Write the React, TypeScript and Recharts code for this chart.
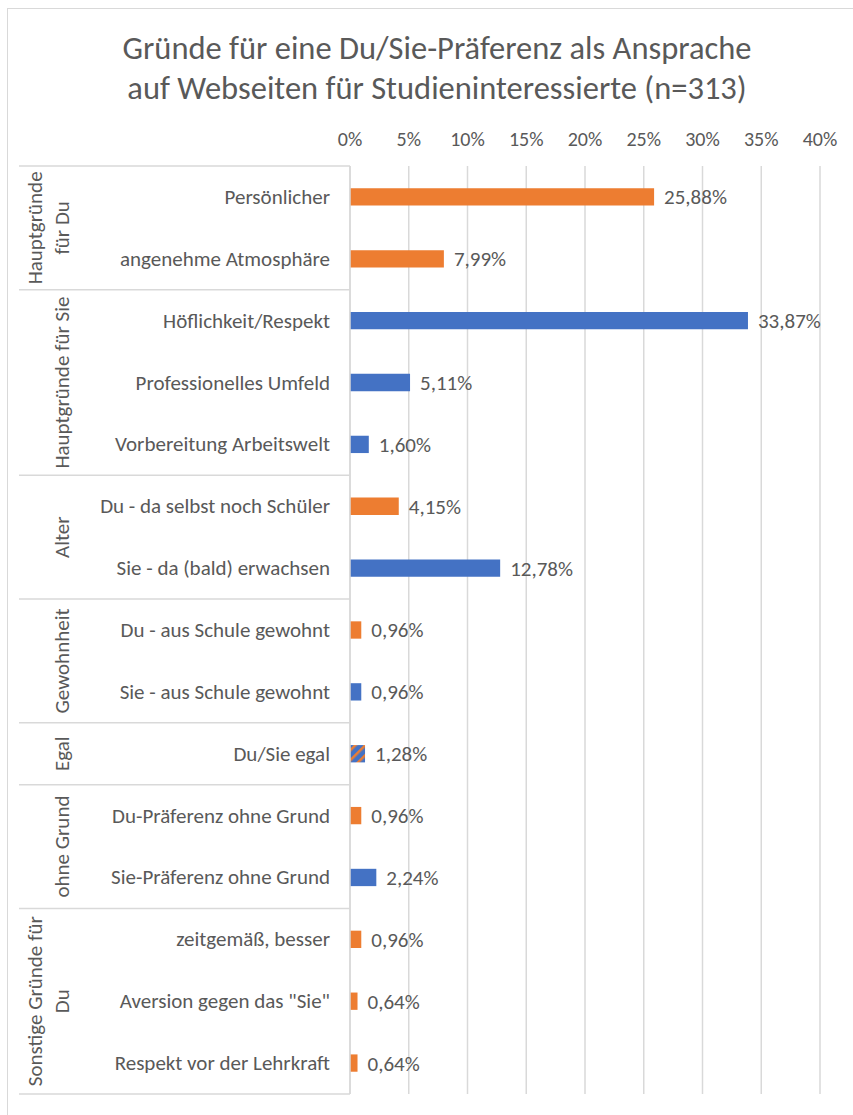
import { BarChart, Bar, XAxis, YAxis, CartesianGrid, Cell, LabelList } from "recharts";

const categories = [
  "Persönlicher",
  "angenehme Atmosphäre",
  "Höflichkeit/Respekt",
  "Professionelles Umfeld",
  "Vorbereitung Arbeitswelt",
  "Du - da selbst noch Schüler",
  "Sie - da (bald) erwachsen",
  "Du - aus Schule gewohnt",
  "Sie - aus Schule gewohnt",
  "Du/Sie egal",
  "Du-Präferenz ohne Grund",
  "Sie-Präferenz ohne Grund",
  "zeitgemäß, besser",
  'Aversion gegen das "Sie"',
  "Respekt vor der Lehrkraft",
];
const values = [25.88, 7.99, 33.87, 5.11, 1.6, 4.15, 12.78, 0.96, 0.96, 1.28, 0.96, 2.24, 0.96, 0.64, 0.64];
// du = orange, sie = blue, egal = striped
const kinds = ["du", "du", "sie", "sie", "sie", "du", "sie", "du", "sie", "egal", "du", "sie", "du", "du", "du"];
const groups = [
  { label: ["Hauptgründe", "für Du"], start: 0, count: 2 },
  { label: ["Hauptgründe für Sie"], start: 2, count: 3 },
  { label: ["Alter"], start: 5, count: 2 },
  { label: ["Gewohnheit"], start: 7, count: 2 },
  { label: ["Egal"], start: 9, count: 1 },
  { label: ["ohne Grund"], start: 10, count: 2 },
  { label: ["Sonstige Gründe für", "Du"], start: 12, count: 3 },
];
const xTicks = [0, 5, 10, 15, 20, 25, 30, 35, 40];

const data = categories.map((name, i) => ({ name, value: values[i], kind: kinds[i] }));

const W = 853;
const H = 1115;
const PLOT_TOP = 166;
const PLOT_BOTTOM = 1094;
const BAND = (PLOT_BOTTOM - PLOT_TOP) / categories.length;
const FONT = "Carlito, Lato, sans-serif";
const GRAY = "#595959";
const LINE = "#d9d9d9";
const FS = 21;

const fillFor = (k: string) => (k === "du" ? "#ED7D31" : k === "sie" ? "#4472C4" : "url(#duSieStripe)");

const CategoryTick = (props: any) => {
  const { x, y, payload } = props;
  const idx = categories.indexOf(payload.value);
  const g = groups.find((gr) => gr.start === idx);
  const last = idx === categories.length - 1;
  let groupEl = null;
  if (g) {
    const top = y - BAND / 2;
    const cy = top + (g.count * BAND) / 2;
    const xs = g.label.length === 2 ? [35, 62] : [62];
    groupEl = (
      <g>
        <line x1={19} x2={350} y1={top} y2={top} stroke={LINE} strokeWidth={1.5} />
        {g.label.map((t, j) => (
          <text
            key={j}
            x={xs[j]}
            y={cy}
            transform={`rotate(-90 ${xs[j]} ${cy})`}
            textAnchor="middle"
            dominantBaseline="central"
            fill={GRAY}
            fontSize={FS}
            fontFamily={FONT}
          >
            {t}
          </text>
        ))}
      </g>
    );
  }
  return (
    <g>
      {groupEl}
      {last && <line x1={19} x2={350} y1={y + BAND / 2} y2={y + BAND / 2} stroke={LINE} strokeWidth={1.5} />}
      <text x={x} y={y} textAnchor="end" dominantBaseline="central" fill={GRAY} fontSize={FS} fontFamily={FONT}>
        {payload.value}
      </text>
    </g>
  );
};

export default function App() {
  return (
    <div style={{ position: "absolute", left: 0, top: 0, width: W, height: H, overflow: "hidden", background: "#fff" }}>
      <div
        style={{
          position: "absolute",
          left: 7,
          top: 8,
          width: W,
          height: H,
          borderLeft: `1.5px solid ${LINE}`,
          borderTop: `1.5px solid ${LINE}`,
        }}
      />
      <div
        style={{
          position: "absolute",
          left: 0,
          width: 874,
          top: 28,
          textAlign: "center",
          fontFamily: FONT,
          fontSize: 32.5,
          lineHeight: "40px",
          color: GRAY,
        }}
      >
        Gründe für eine Du/Sie-Präferenz als Ansprache
        <br />
        auf Webseiten für Studieninteressierte (n=313)
      </div>
      <div style={{ position: "absolute", left: 0, top: 0 }}>
        <BarChart
          width={W}
          height={H}
          data={data}
          layout="vertical"
          margin={{ top: PLOT_TOP - 30, right: 33, bottom: H - PLOT_BOTTOM, left: 0 }}
          barCategoryGap="64%"
        >
          <defs>
            <pattern id="duSieStripe" width="7" height="7" patternUnits="userSpaceOnUse" patternTransform="rotate(45)">
              <rect width="7" height="7" fill="#4472C4" />
              <rect width="2.5" height="7" fill="#ED7D31" />
            </pattern>
          </defs>
          <CartesianGrid horizontal={false} stroke={LINE} strokeWidth={1.5} />
          <XAxis
            type="number"
            orientation="top"
            domain={[0, 40]}
            ticks={xTicks}
            height={30}
            axisLine={false}
            tickLine={false}
            tickMargin={14}
            tickFormatter={(v: number) => `${v}%`}
            tick={{ fill: GRAY, fontSize: 20, fontFamily: FONT }}
          />
          <YAxis
            type="category"
            dataKey="name"
            width={350}
            axisLine={{ stroke: LINE, strokeWidth: 1.5 }}
            tickLine={false}
            tickSize={0}
            tickMargin={20}
            interval={0}
            tick={<CategoryTick />}
          />
          <Bar dataKey="value" isAnimationActive={false}>
            {data.map((d, i) => (
              <Cell key={i} fill={fillFor(d.kind)} />
            ))}
            <LabelList
              dataKey="value"
              position="right"
              offset={10}
              formatter={(v: any) => `${Number(v).toFixed(2).replace(".", ",")}%`}
              style={{ fill: GRAY, fontSize: FS, fontFamily: FONT }}
            />
          </Bar>
        </BarChart>
      </div>
    </div>
  );
}
